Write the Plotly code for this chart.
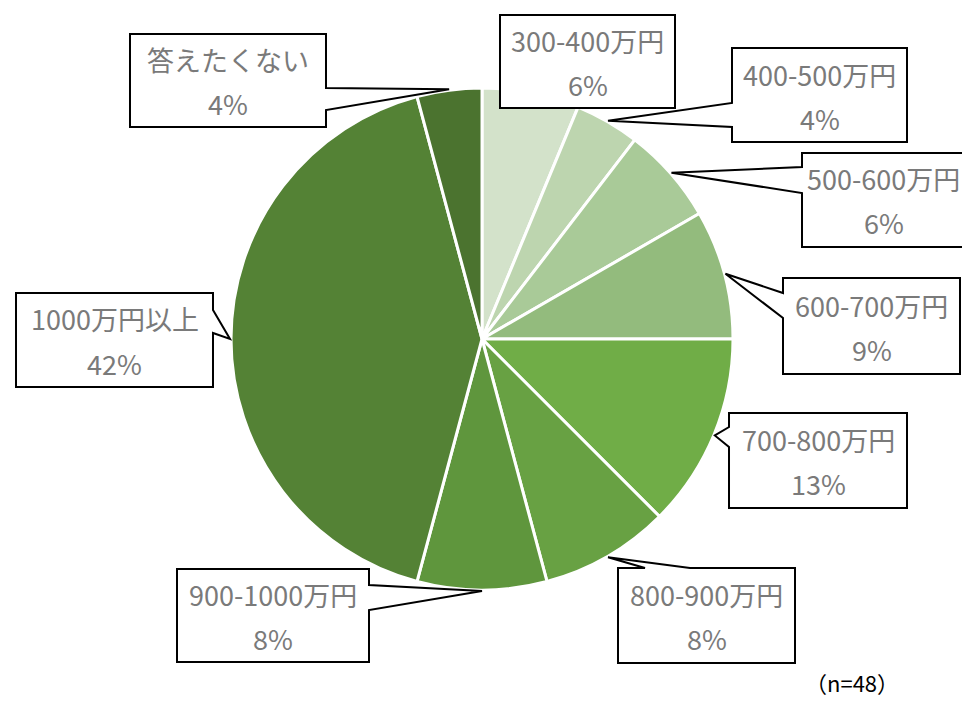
import math
import plotly.graph_objects as go

labels = ["300-400万円", "400-500万円", "500-600万円", "600-700万円", "700-800万円",
          "800-900万円", "900-1000万円", "1000万円以上", "答えたくない"]
counts = [3, 2, 3, 4, 6, 4, 4, 20, 2]
pct_text = ["6%", "4%", "6%", "9%", "13%", "8%", "8%", "42%", "4%"]
colors = ["#D3E2CA", "#BDD5AF", "#A9CA98", "#93BB7D", "#70AD47",
          "#68A143", "#5F963D", "#548235", "#4B732F"]
n_total = 48

# page body has an 8px margin, so the figure is drawn 8px in from the window corner
OFF = 8
W, H = 970 - 2 * OFF, 709 - 2 * OFF
CX, CY, R = 482, 339, 251
FONT = "Noto Sans CJK JP"
TXT = "#7A7A7A"

# callout boxes in window pixels: (x0, y0, x1, y1, side, a, b, text_dx)
boxes = [
    (500, 15, 675, 108, None, 0, 0, 0),
    (732, 48, 907, 142, "left", 103, 127, 0),
    (802, 153, 975, 247, "left", 167, 193, -5),
    (783, 278, 960, 374, "left", 293, 318, 0),
    (729, 413, 907, 508, "left", 427, 447, 0),
    (618, 568, 795, 663, "top", 645, 690, 0),
    (177, 569, 369, 662, "right", 585, 610, 0),
    (16, 293, 213, 387, "right", 310, 333, 0),
    (130, 34, 326, 127, "right", 88, 110, 0),
]


def px(x, y):
    return (x - OFF) / W, 1 - (y - OFF) / H


def callout_path(box, tip):
    x0, y0, x1, y1, side, a, b, _ = box
    pts = [(x0, y0)]
    if side == "top":
        pts += [(a, y0), tip, (b, y0)]
    pts.append((x1, y0))
    if side == "right":
        pts += [(x1, a), tip, (x1, b)]
    pts += [(x1, y1), (x0, y1)]
    if side == "left":
        pts += [(x0, b), tip, (x0, a)]
    segs = []
    for i, (x, y) in enumerate(pts):
        u, v = px(x, y)
        segs.append(("M" if i == 0 else "L") + f"{u:.5f},{v:.5f}")
    return " ".join(segs) + " Z"


dx0, dy1 = px(CX - R, CY - R)
dx1, dy0 = px(CX + R, CY + R)

fig = go.Figure(go.Pie(
    labels=labels,
    values=counts,
    sort=False,
    direction="clockwise",
    rotation=0,
    marker=dict(colors=colors, line=dict(color="white", width=3)),
    textinfo="none",
    hoverinfo="label+percent",
    showlegend=False,
    domain=dict(x=[dx0, dx1], y=[dy0, dy1]),
))

shapes = []
annotations = []
total = sum(counts)
cum = 0
for i, v in enumerate(counts):
    mid = (cum + v / 2) / total * 2 * math.pi
    cum += v
    tip = (CX + (R + 1) * math.sin(mid), CY - (R + 1) * math.cos(mid))
    box = boxes[i]
    shapes.append(dict(type="path", path=callout_path(box, tip), xref="paper", yref="paper",
                       fillcolor="white", line=dict(color="black", width=2), layer="above"))
    bx = (box[0] + box[2]) / 2 + box[7]
    by = (box[1] + box[3]) / 2
    for text, dy in ((labels[i], -21), (pct_text[i], 23)):
        u, v2 = px(bx, by + dy)
        annotations.append(dict(x=u, y=v2, xref="paper", yref="paper", text=text,
                                showarrow=False, xanchor="center", yanchor="middle",
                                font=dict(family=FONT, size=27, color=TXT)))

u, v2 = px(852, 700)
annotations.append(dict(x=u, y=v2, xref="paper", yref="paper", text=f"（n={n_total}）",
                        showarrow=False, xanchor="center", yanchor="bottom",
                        font=dict(family=FONT, size=22, color="black")))

fig.update_layout(
    width=W, height=H,
    margin=dict(l=0, r=0, t=0, b=0),
    paper_bgcolor="white",
    plot_bgcolor="white",
    shapes=shapes,
    annotations=annotations,
)

fig.write_html("out.html")
